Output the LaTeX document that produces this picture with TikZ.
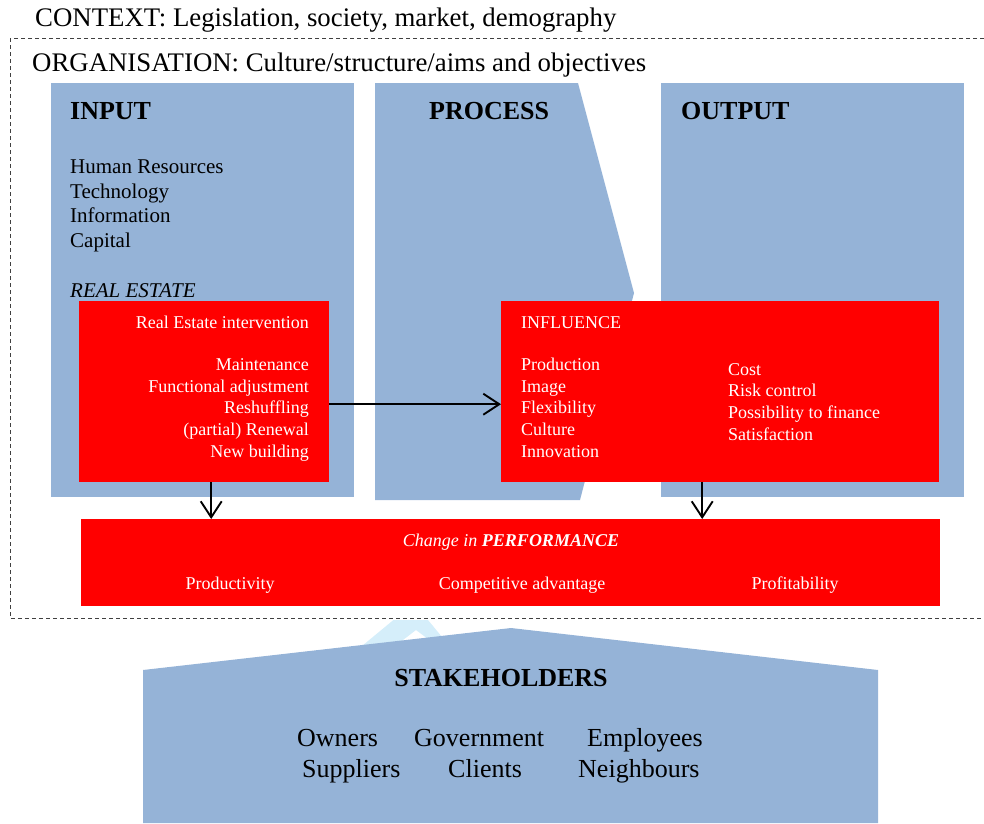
\documentclass[tikz,border=0pt]{standalone}
\usepackage{fontspec}
\setmainfont{Liberation Serif}
\usetikzlibrary{positioning,arrows.meta}

\definecolor{blockblue}{HTML}{95B3D7}
\definecolor{boxred}{HTML}{FF0000}
\definecolor{paleblue}{HTML}{D5EEFA}

\begin{document}
\begin{tikzpicture}[x=1pt,y=-1pt,
	block/.style={fill=blockblue},
	redbox/.style={fill=boxred, inner sep=0pt, anchor=north west},
	bigtext/.style={font=\fontsize{26}{30}\selectfont, inner sep=0pt, anchor=base west},
	toptext/.style={font=\fontsize{26.8}{30}\selectfont, inner sep=0pt, anchor=base west},
	heading/.style={font=\fontsize{26}{30}\selectfont\bfseries, inner sep=0pt, anchor=base west},
	listtext/.style={font=\fontsize{21}{24.4}\selectfont, align=left, inner sep=0pt, anchor=base west},
	redtext/.style={text=white, font=\fontsize{18}{21.6}\selectfont, inner sep=0pt},
	link/.style={-{Straight Barb[length=16pt,width=21pt]}, line width=1.9pt}]
	\clip (0,0) rectangle (984,823);

	% context and organisation
	\node[toptext] (context) at (35,26) {CONTEXT: Legislation, society, market, demography};
	\draw[black!75, line width=0.9pt, dash pattern=on 4pt off 3pt] (10,38) rectangle (995,618);
	\node[toptext] (organisation) at (32,71) {ORGANISATION: Culture/structure/aims and objectives};

	% input, process, output
	\fill[block] (51,83) rectangle (354,497);
	\fill[block] (375,83) -- (578,83) -- (634,293) -- (580,500) -- (375,500) -- cycle;
	\fill[block] (661,83) rectangle (964,497);

	\node[heading] (input) at (70,119) {INPUT};
	\node[heading] (process) at (429,119) {PROCESS};
	\node[heading] (output) at (681,119) {OUTPUT};

	% base of a multi-line node sits on its last line
	\node[listtext] (resources) at (70,247) {Human Resources\\Technology\\Information\\Capital};
	\node[listtext, font=\fontsize{21}{24.4}\selectfont\itshape] (realestate) at (70,297) {REAL ESTATE};

	% red boxes
	\node[redbox, minimum width=250, minimum height=181] (intervention) at (79,301) {};
	\node[redbox, minimum width=438, minimum height=181] (influence) at (501,301) {};
	\node[redbox, minimum width=859, minimum height=87] (performance) at (81,519) {};

	\node[redtext, anchor=base east] (intervtitle) at (309,328) {Real Estate intervention};
	\node[redtext, anchor=base east, align=right] (intervlist) at (309,457)
		{Maintenance\\Functional adjustment\\Reshuffling\\(partial) Renewal\\New building};

	\node[redtext, anchor=base west] (infltitle) at (521,328) {INFLUENCE};
	\node[redtext, anchor=base west, align=left] (infllist) at (521,457)
		{Production\\Image\\Flexibility\\Culture\\Innovation};
	\node[redtext, anchor=base west, align=left] (costlist) at (728,440)
		{Cost\\Risk control\\Possibility to finance\\Satisfaction};

	\node[redtext, anchor=base] (perftitle) at (511,546) {\itshape Change in \textbf{PERFORMANCE}};
	\node[redtext, anchor=base] (productivity) at (230,589) {Productivity};
	\node[redtext, anchor=base] (competitive) at (522,589) {Competitive advantage};
	\node[redtext, anchor=base] (profitability) at (795,589) {Profitability};

	% arrows
	\draw[link] ([yshift=-12.5pt]intervention.east) -- ([yshift=-12.5pt]intervention.east -| influence.west);
	\draw[link] ([xshift=7pt]intervention.south) -- ([xshift=7pt]intervention.south |- performance.north);
	\draw[link] ([xshift=-18pt]influence.south) -- ([xshift=-18pt]influence.south |- performance.north);

	% stakeholders
	\begin{scope}
		\clip (0,620) rectangle (984,823);
		\fill[paleblue] (345,660) -- (414,603) -- (461,660) -- (456,660) -- (416,630) -- (377,660) -- cycle;
	\end{scope}
	\fill[block] (143,670) -- (511,628) -- (878,670) -- (878,823) -- (143,823) -- cycle;

	\node[heading, anchor=base] (stakeholders) at (501,686) {STAKEHOLDERS};
	\node[bigtext] (owners) at (297,746) {Owners};
	\node[bigtext] (government) at (414,746) {Government};
	\node[bigtext] (employees) at (587,746) {Employees};
	\node[bigtext] (suppliers) at (302,777) {Suppliers};
	\node[bigtext] (clients) at (448,777) {Clients};
	\node[bigtext] (neighbours) at (578,777) {Neighbours};
\end{tikzpicture}
\end{document}
